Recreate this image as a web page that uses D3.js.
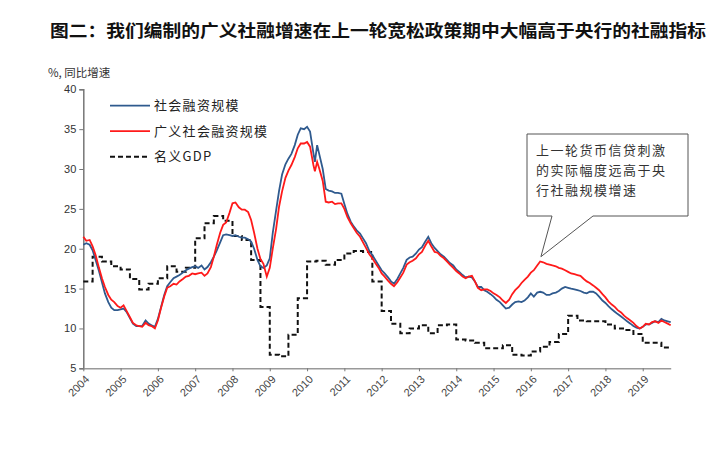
<!DOCTYPE html>
<html>
<head>
<meta charset="utf-8">
<script src="https://cdn.jsdelivr.net/npm/d3@7/dist/d3.min.js"></script>
<style>
	body { margin: 0; background: #fff; }
	svg { display: block; }
</style>
</head>
<body>
<svg id="chart" width="727" height="469"></svg>
<script>
"use strict";

/* global d3 */

// decimal years, monthly-ish samples
var months = [
	2004.00, 2004.08, 2004.17, 2004.25, 2004.33, 2004.42, 2004.50, 2004.58, 2004.67, 2004.75, 2004.83, 2004.92,
	2005.00, 2005.08, 2005.17, 2005.25, 2005.33, 2005.42, 2005.50, 2005.58, 2005.67, 2005.75, 2005.83, 2005.92,
	2006.00, 2006.08, 2006.17, 2006.25, 2006.33, 2006.42, 2006.50, 2006.58, 2006.67, 2006.75, 2006.83, 2006.92,
	2007.00, 2007.08, 2007.17, 2007.25, 2007.33, 2007.42, 2007.50, 2007.58, 2007.67, 2007.75, 2007.83, 2007.92,
	2008.00, 2008.08, 2008.17, 2008.25, 2008.33, 2008.42, 2008.50, 2008.58, 2008.67, 2008.75, 2008.83, 2008.92,
	2009.00, 2009.08, 2009.17, 2009.25, 2009.33, 2009.42, 2009.50, 2009.58, 2009.67, 2009.75, 2009.83, 2009.92,
	2010.00, 2010.08, 2010.17, 2010.21, 2010.27, 2010.33, 2010.42, 2010.50, 2010.58, 2010.67, 2010.75, 2010.83, 2010.92,
	2011.00, 2011.08, 2011.17, 2011.25, 2011.33, 2011.42, 2011.50, 2011.58, 2011.67, 2011.75, 2011.83, 2011.92,
	2012.00, 2012.08, 2012.17, 2012.25, 2012.33, 2012.42, 2012.50, 2012.58, 2012.67, 2012.75, 2012.83, 2012.92,
	2013.00, 2013.08, 2013.17, 2013.25, 2013.33, 2013.42, 2013.50, 2013.58, 2013.67, 2013.75, 2013.83, 2013.92,
	2014.00, 2014.08, 2014.17, 2014.25, 2014.33, 2014.42, 2014.50, 2014.58, 2014.67, 2014.75, 2014.83, 2014.92,
	2015.00, 2015.08, 2015.17, 2015.25, 2015.33, 2015.42, 2015.50, 2015.58, 2015.67, 2015.75, 2015.83, 2015.92,
	2016.00, 2016.08, 2016.17, 2016.25, 2016.33, 2016.42, 2016.50, 2016.58, 2016.67, 2016.75, 2016.83, 2016.92,
	2017.00, 2017.08, 2017.17, 2017.25, 2017.33, 2017.42, 2017.50, 2017.58, 2017.67, 2017.75, 2017.83, 2017.92,
	2018.00, 2018.08, 2018.17, 2018.25, 2018.33, 2018.42, 2018.50, 2018.58, 2018.67, 2018.75, 2018.83, 2018.92,
	2019.00, 2019.08, 2019.17, 2019.25, 2019.33, 2019.42, 2019.50, 2019.58, 2019.67, 2019.75
];

// 社会融资规模 (blue)
var tsfValues = [
	20.5, 20.7, 20.5, 19.8, 18.6, 17.2, 15.8, 14.4, 13.3, 12.6, 12.3, 12.3,
	12.4, 12.5, 12.0, 11.3, 10.6, 10.3, 10.3, 10.3, 11.0, 10.6, 10.4, 10.2,
	11.2, 12.6, 14.2, 15.3, 15.8, 16.3, 16.5, 16.7, 17.0, 17.3, 17.5, 17.7,
	17.8, 17.6, 17.9, 17.4, 17.7, 18.3, 19.0, 19.8, 20.8, 21.7, 21.8, 21.7,
	21.6, 21.7, 21.5, 21.4, 21.4, 21.2, 20.9, 20.0, 18.6, 17.8, 17.6, 17.9,
	18.8, 22.0, 24.8, 27.3, 29.3, 30.6, 31.3, 31.9, 33.0, 34.3, 35.1, 35.0,
	35.3, 34.7, 32.0, 30.9, 33.0, 31.8, 30.0, 27.5, 27.3, 27.2, 27.0, 27.0, 26.9,
	25.6, 24.4, 23.4, 22.8, 22.3, 21.9, 21.3, 20.7, 19.7, 19.2, 18.6, 17.9,
	17.3, 16.9, 16.4, 15.9, 15.6, 16.2, 16.9, 17.6, 18.6, 18.9, 19.0, 19.4,
	19.9, 20.2, 20.9, 21.5, 20.7, 20.1, 19.7, 19.3, 19.0, 18.6, 18.2, 17.9,
	17.4, 17.1, 16.7, 16.4, 16.5, 16.4, 15.9, 15.2, 15.2, 14.8, 14.6, 14.3,
	14.0, 13.6, 13.3, 12.9, 12.5, 12.6, 13.0, 13.3, 13.4, 13.3, 13.5, 13.9,
	14.4, 14.0, 14.5, 14.6, 14.5, 14.2, 14.2, 14.4, 14.5, 14.7, 15.0, 15.2,
	15.1, 15.0, 14.9, 14.8, 14.7, 14.5, 14.4, 14.6, 14.6, 14.4, 14.0, 13.5,
	13.2, 12.8, 12.4, 12.1, 11.8, 11.5, 11.2, 10.9, 10.6, 10.3, 10.1, 10.0,
	10.2, 10.5, 10.5, 10.7, 10.9, 10.8, 11.2, 11.0, 10.9, 10.8
];

// 广义社会融资规模 (red)
var broadValues = [
	21.5, 21.0, 21.1, 20.3, 19.2, 17.6, 16.3, 15.2, 14.2, 13.6, 13.3, 12.8,
	12.6, 12.9, 12.1, 11.4, 10.7, 10.4, 10.3, 10.2, 10.7, 10.4, 10.3, 10.0,
	11.0, 12.5, 14.0, 15.1, 15.3, 15.6, 15.5, 15.9, 16.2, 16.5, 16.6, 16.9,
	16.8, 16.9, 17.0, 16.6, 16.9, 17.7, 19.0, 20.5, 22.0, 23.0, 23.3, 24.5,
	25.7, 25.8, 25.2, 24.9, 24.9, 24.6, 23.6, 22.0, 20.0, 18.7, 18.1, 16.5,
	17.6, 20.0, 22.5, 25.3, 27.2, 28.9, 29.8, 30.5, 31.5, 32.6, 33.2, 33.2,
	33.4, 32.8, 30.5, 29.7, 30.9, 30.0, 28.5, 25.9, 25.8, 25.9, 25.6, 25.7, 25.7,
	25.0, 24.0, 23.2, 22.6, 22.0, 21.5, 20.8, 20.1, 19.3, 18.8, 18.2, 17.6,
	16.9, 16.5, 16.0, 15.6, 15.3, 15.8, 16.4, 17.0, 18.0, 18.3, 18.5, 18.8,
	19.3, 19.6, 20.4, 21.0, 20.3, 19.6, 19.5, 19.1, 18.8, 18.4, 18.0, 17.6,
	17.2, 16.9, 16.5, 16.3, 16.5, 16.6, 15.9, 15.1, 14.8, 14.9, 14.9, 14.7,
	14.4, 14.2, 13.9, 13.5, 13.2, 13.6, 14.3, 14.8, 15.2, 15.7, 16.1, 16.5,
	17.0, 17.3, 17.9, 18.4, 18.3, 18.1, 18.0, 17.9, 17.8, 17.6, 17.5, 17.3,
	17.1, 16.9, 16.8, 16.7, 16.6, 16.2, 15.9, 15.7, 15.4, 15.1, 14.8, 14.3,
	13.9, 13.4, 13.0, 12.7, 12.3, 12.0, 11.6, 11.3, 11.0, 10.7, 10.3, 10.0,
	10.2, 10.6, 10.5, 10.8, 10.9, 10.7, 11.0, 10.8, 10.6, 10.4
];

// 名义GDP, quarterly, 2004Q1 - 2019Q3
var gdpValues = [
	15.9, 19.0, 18.4, 17.8,
	17.4, 16.2, 14.9, 15.6,
	16.3, 17.8, 17.1, 17.6,
	21.3, 23.2, 24.1, 23.5,
	21.6, 21.1, 18.6, 12.7,
	6.7, 6.5, 9.2, 13.8,
	18.4, 18.5, 18.0, 18.6,
	19.4, 19.7, 19.6, 15.9,
	12.2, 10.6, 9.4, 10.0,
	10.4, 9.4, 10.4, 10.5,
	8.6, 8.5, 8.2, 7.5,
	7.5, 7.9, 6.7, 6.6,
	7.1, 7.7, 8.3, 9.3,
	11.6, 11.0, 10.9, 10.9,
	10.5, 10.0, 9.8, 9.3,
	8.2, 8.2, 7.6
];

var yearTicks = d3.range(2004, 2020);
var valueTicks = [5, 10, 15, 20, 25, 30, 35, 40];

var seriesNames = ["社会融资规模", "广义社会融资规模", "名义GDP"];
var seriesColors = ["#2f5a8e", "#ff1a1a", "#111111"];

var titleText = "图二：我们编制的广义社融增速在上一轮宽松政策期中大幅高于央行的社融指标";
var noteLines = ["上一轮货币信贷刺激", "的实际幅度远高于央", "行社融规模增速"];

(function() {
	var svg = d3.select("#chart");
	var font = "'Liberation Sans', Arial, 'Noto Sans CJK SC', sans-serif";

	var x = d3.scaleLinear().domain([2004, 2019.75]).range([83.3, 670.7]);
	var y = d3.scaleLinear().domain([5, 40]).range([368.3, 89.3]);

	// title
	svg.append("text")
		.attr("x", 50)
		.attr("y", 37)
		.attr("textLength", 656)
		.attr("lengthAdjust", "spacingAndGlyphs")
		.style("font-family", "'Noto Sans CJK SC', sans-serif")
		.style("font-weight", "bold")
		.style("font-size", "17px")
		.style("fill", "#111")
		.text(titleText);

	// unit label
	svg.append("text")
		.attr("x", 48)
		.attr("y", 77)
		.style("font-family", "'Noto Sans CJK SC', sans-serif")
		.style("font-size", "11.5px")
		.style("fill", "#333")
		.text("%, 同比增速");

	// y axis
	var yAxis = svg.append("g")
		.attr("transform", "translate(" + x.range()[0] + ",0)")
		.call(d3.axisLeft(y).tickValues(valueTicks).tickSize(4).tickPadding(3));
	yAxis.select(".domain").attr("stroke", "#777").attr("stroke-width", 1.5);
	yAxis.selectAll(".tick line").attr("stroke", "#777");
	yAxis.selectAll(".tick text")
		.style("font-family", font)
		.style("font-size", "11px")
		.style("fill", "#333");

	// x axis, labels drawn separately so they can be rotated
	var xAxis = svg.append("g")
		.attr("transform", "translate(0," + y(5) + ")")
		.call(d3.axisBottom(x).tickValues(yearTicks).tickFormat("").tickSize(3).tickSizeOuter(0));
	xAxis.select(".domain").attr("stroke", "#999").attr("stroke-width", 1.5);
	xAxis.selectAll(".tick line").attr("stroke", "#777");

	// each label sits in a rotated group
	svg.append("g").selectAll("g")
		.data(yearTicks)
		.join("g")
		.attr("transform", function(d) {
			return "translate(" + (x(d) + 4) + "," + (y(5) + 9) + ") rotate(-45)";
		})
		.append("text")
		.attr("text-anchor", "end")
		.attr("dy", "0.35em")
		.style("font-family", font)
		.style("font-size", "11px")
		.style("fill", "#444")
		.text(function(d) { return d; });

	// lines
	var line = d3.line()
		.x(function(d) { return x(d[0]); })
		.y(function(d) { return y(d[1]); });

	var gdpPoints = gdpValues.map(function(v, i) { return [2004 + i * 0.25, v]; });
	gdpPoints.push([2019.75, gdpValues[gdpValues.length - 1]]);

	svg.append("path")
		.attr("d", line.curve(d3.curveStepAfter)(gdpPoints))
		.attr("fill", "none")
		.attr("stroke", seriesColors[2])
		.attr("stroke-width", 2)
		.attr("stroke-dasharray", "5,3");

	line.curve(d3.curveLinear);

	svg.append("path")
		.attr("d", line(d3.zip(months, tsfValues)))
		.attr("fill", "none")
		.attr("stroke", seriesColors[0])
		.attr("stroke-width", 1.8);

	svg.append("path")
		.attr("d", line(d3.zip(months, broadValues)))
		.attr("fill", "none")
		.attr("stroke", seriesColors[1])
		.attr("stroke-width", 1.8);

	// legend
	var legend = svg.append("g");
	seriesNames.forEach(function(name, i) {
		var ly = 105.7 + i * 25.5;
		legend.append("line")
			.attr("x1", 110).attr("x2", 150)
			.attr("y1", ly).attr("y2", ly)
			.attr("stroke", seriesColors[i])
			.attr("stroke-width", i === 2 ? 2 : 1.8)
			.attr("stroke-dasharray", i === 2 ? "5,3" : null);
		legend.append("text")
			.attr("x", 154)
			.attr("y", ly + 4.5)
			.style("font-family", "'Noto Sans CJK SC', sans-serif")
			.style("font-size", "13px")
			.style("letter-spacing", "1.3px")
			.style("fill", "#222")
			.text(name);
	});

	// callout box
	var tipX = x(2016.27), tipY = y(19.0);
	svg.append("path")
		.attr("d", "M527,134H688V216H593L" + tipX + "," + tipY + "L552,216H527Z")
		.attr("fill", "#fff")
		.attr("stroke", "#555")
		.attr("stroke-width", 1);

	svg.append("g").selectAll("text")
		.data(noteLines)
		.join("text")
		.attr("x", 536)
		.attr("y", function(d, i) { return 155 + i * 20; })
		.style("font-family", "'Noto Sans CJK SC', sans-serif")
		.style("font-size", "13px")
		.style("letter-spacing", "1.5px")
		.style("fill", "#333")
		.text(function(d) { return d; });
}());
</script>
</body>
</html>
